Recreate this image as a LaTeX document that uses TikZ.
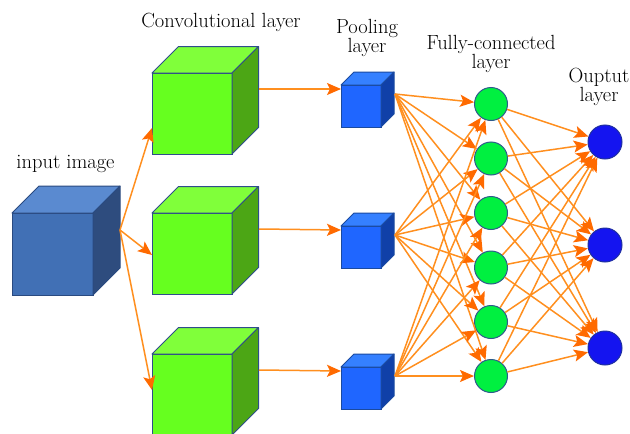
\documentclass[tikz,border=0pt]{standalone}
\usetikzlibrary{arrows.meta,calc}
\definecolor{lineor}{HTML}{FF8F1F}
\definecolor{tipor}{HTML}{FF6A00}
\definecolor{inF}{HTML}{4170B5}
\definecolor{inT}{HTML}{5A8AD0}
\definecolor{inS}{HTML}{2E4C7E}
\definecolor{inB}{HTML}{2A4A80}
\definecolor{cvF}{HTML}{66FF1F}
\definecolor{cvT}{HTML}{80FF3A}
\definecolor{cvS}{HTML}{4CA615}
\definecolor{cvB}{HTML}{2E4D8A}
\definecolor{plF}{HTML}{1F66FF}
\definecolor{plT}{HTML}{3580FF}
\definecolor{plS}{HTML}{1040A8}
\definecolor{plB}{HTML}{1A4AA0}
\definecolor{fcF}{HTML}{00F040}
\definecolor{fcB}{HTML}{2E5A8C}
\definecolor{otF}{HTML}{1414F0}
\definecolor{otB}{HTML}{2030A0}
\newcommand\sideface[6]{% name, w, h, d, fill, border
  \filldraw[draw=#6, line width=1pt, fill=#5, line join=round]
    (#1.north east) -- ++(#4,-#4) -- ++(0,#3) -- (#1.south east) -- cycle;
}
\newcommand\topface[5]{% name, w, d, fill, border
  \filldraw[draw=#5, line width=1pt, fill=#4, line join=round]
    (#1.north west) -- ++(#3,-#3) -- ++(#2,0) -- (#1.north east) -- cycle;
}
\newcommand\frontface[7]{% name, x, y, w, h, fill, border
  \node[draw=#7, line width=1pt, fill=#6, inner sep=0pt, outer sep=0pt,
        minimum width=#4pt, minimum height=#5pt, anchor=north west] (#1) at (#2,#3) {};
}
\tikzset{
  conn/.style={draw=lineor, line width=1.5pt,
    -{Stealth[length=14pt,width=12pt,inset=3pt,color=tipor]}},
  lbl/.style={font=\fontsize{20.5}{19}\selectfont, align=center, anchor=base, inner sep=0pt},
  fcnode/.style={circle, draw=fcB, line width=1pt, fill=fcF, minimum size=33pt, inner sep=0pt},
  outnode/.style={circle, draw=otB, line width=1pt, fill=otF, minimum size=34pt, inner sep=0pt}
}
\begin{document}
\begin{tikzpicture}[x=1pt,y=-1pt]
\useasboundingbox (0,0) rectangle (630,434);
% input cube
\frontface{inp}{12}{213}{81}{82}{inF}{inB}
\topface{inp}{81}{27}{inT}{inB}
\sideface{inp}{81}{82}{27}{inS}{inB}
% conv cubes
\foreach \n/\y in {c1/73,c2/213,c3/354}{
  \frontface{\n}{152}{\y}{80}{81}{cvF}{cvB}
  \topface{\n}{80}{26.5}{cvT}{cvB}
  \sideface{\n}{80}{81}{26.5}{cvS}{cvB}
}
% pooling cubes
\foreach \n/\y in {p1/85,p2/226,p3/367}{
  \frontface{\n}{341}{\y}{40}{42}{plF}{plB}
  \topface{\n}{40}{13}{plT}{plB}
  \sideface{\n}{40}{42}{13}{plS}{plB}
}
% ports
\coordinate (inport) at ($(inp.north east)+(27,17)$);
\coordinate (c1in) at ($(c1.north west)+(0,55)$);
\coordinate (c2in) at ($(c2.north west)+(0,42)$);
\coordinate (c3in) at ($(c3.north west)+(0,36)$);
\foreach \k in {1,2,3}{
  \coordinate (c\k out) at ($(c\k.north east)+(27,16)$);
  \coordinate (p\k in) at ($(p\k.north west)+(0,4)$);
  \coordinate (p\k out) at ($(p\k.north east)+(14,9)$);
}
% FC and output nodes
\foreach \j/\y in {1/104,2/158.5,3/213,4/267.5,5/322,6/376}{
  \node[fcnode] (f\j) at (491,\y) {};
}
\foreach \k/\y in {1/142,2/245,3/348}{
  \node[outnode] (o\k) at (605,\y) {};
}
% connectors
\foreach \k in {1,2,3}{
  \draw[conn] (inport) -- (c\k in);
  \draw[conn] (c\k out) -- (p\k in);
}
\foreach \k in {1,2,3}{
  \foreach \j in {1,...,6}{
    \draw[conn] (p\k out) -- (f\j);
  }
}
\foreach \j in {1,...,6}{
  \foreach \k in {1,2,3}{
    \draw[conn] (f\j) -- (o\k);
  }
}
% labels
\node[lbl] (tin) at (65.5,168) {input image};
\node[lbl] (tconv) at (221,27) {Convolutional layer};
\node[lbl] (tpool) at (367,52) {Pooling\\layer};
\node[lbl] (tfc) at (491,68) {Fully-connected\\layer};
\node[lbl] (tout) at (599,101) {Ouptut\\layer};
\end{tikzpicture}
\end{document}
